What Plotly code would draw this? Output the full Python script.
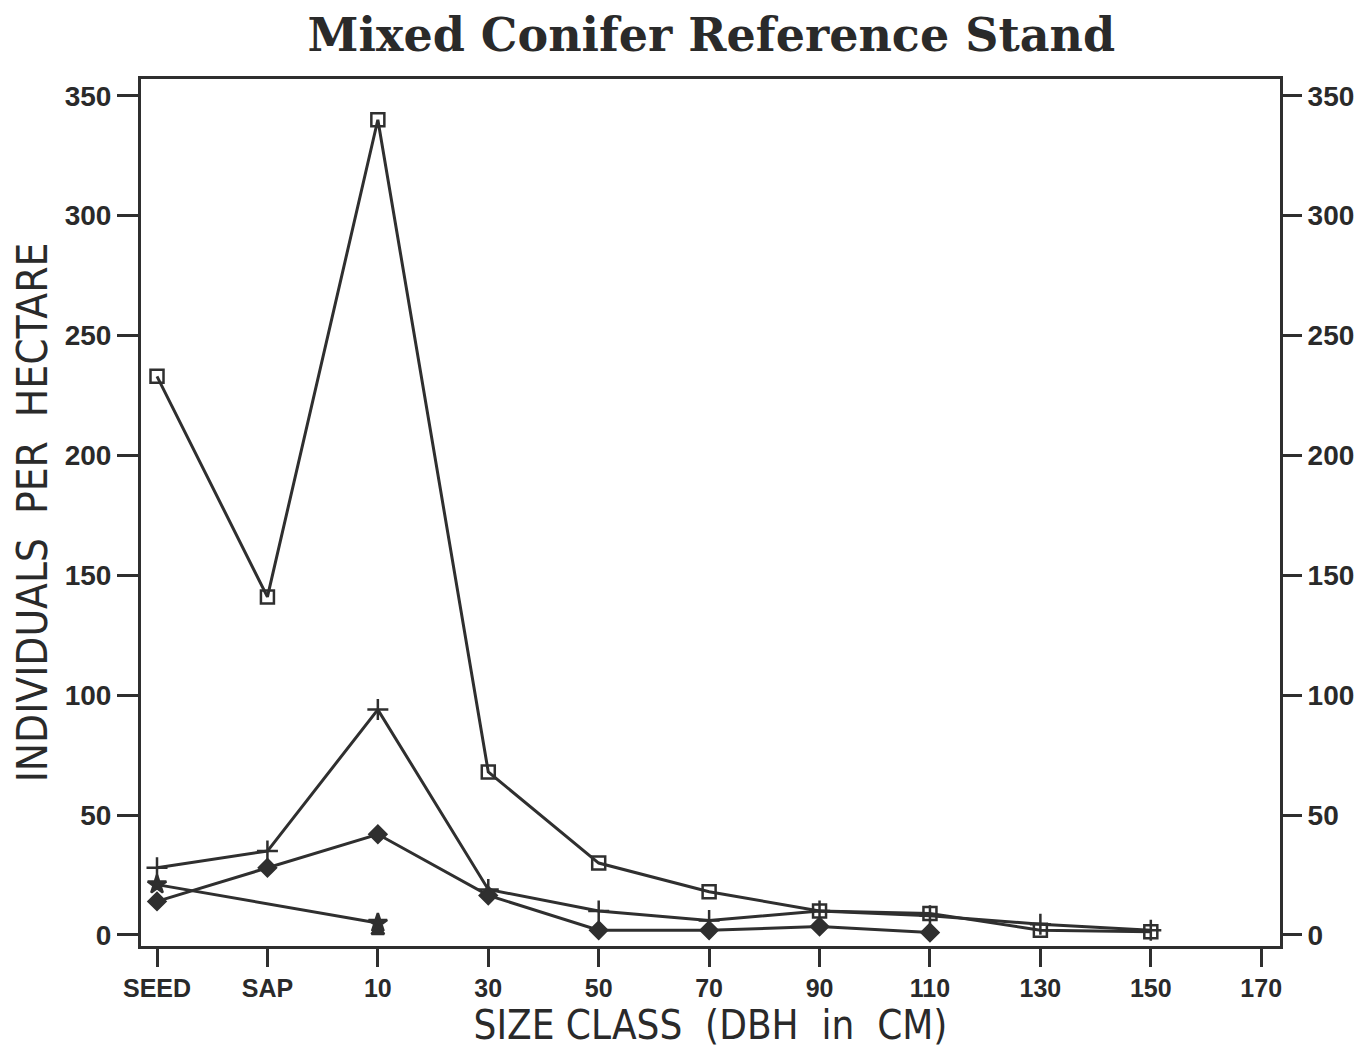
import plotly.graph_objects as go

categories = ["SEED", "SAP", "10", "30", "50", "70", "90", "110", "130", "150", "170"]
x_pos = list(range(len(categories)))

squares = [233, 141, 340, 68, 30, 18, 10, 9, 2, 1.3]
plus = [28, 35, 94, 19, 10, 6, 10, 8, 4.5, 2]
diamonds = [14, 28, 42, 16.5, 2, 2, 3.5, 1]
stars = [21, None, 5]
triangle = [None, None, 1.5]

y_ticks = [0, 50, 100, 150, 200, 250, 300, 350]

LINE = "#2f2f2f"
fig = go.Figure()

def add(vals, symbol, size):
    xs = [x_pos[i] for i, v in enumerate(vals) if v is not None]
    ys = [v for v in vals if v is not None]
    fig.add_trace(go.Scatter(
        x=xs, y=ys, mode="lines+markers",
        line=dict(color=LINE, width=3),
        marker=dict(symbol=symbol, size=size, color=LINE,
                    line=dict(color=LINE, width=2.5)),
        showlegend=False, cliponaxis=False))

add(squares, "square-open", 13)
add(plus, "cross-thin", 15)
add(diamonds, "diamond", 13)
add(stars, "star", 14)
add(triangle, "triangle-up", 11)

fig.add_trace(go.Scatter(x=[0], y=[0], yaxis="y2", mode="markers",
                         marker=dict(opacity=0), showlegend=False, hoverinfo="skip"))

ytickfont = dict(family="Liberation Sans", size=28, color="#2a2a2a", weight="bold")
xtickfont = dict(family="Liberation Sans", size=25, color="#2a2a2a", weight="bold")
yr = [-4.6, 357]

fig.update_layout(
    width=1371, height=1049,
    paper_bgcolor="white", plot_bgcolor="white",
    margin=dict(l=133, r=99, t=71, b=111),
    title=dict(text="Mixed Conifer Reference Stand", x=0.513, xanchor="center",
               y=0.974, yanchor="middle",
               font=dict(family="DejaVu Serif", size=46, color="#2a2a2a", weight="bold")),
    xaxis=dict(range=[-0.145, 10.17], tickmode="array", tickvals=x_pos, ticktext=categories,
               showgrid=False, zeroline=False, showline=True, linecolor=LINE, linewidth=3,
               mirror=True, ticks="outside", ticklen=18, tickwidth=2.5, tickcolor=LINE,
               tickfont=xtickfont,
               title=dict(text="SIZE CLASS  (DBH  in  CM)", standoff=2,
                          font=dict(family="DejaVu Sans Condensed", size=40, color="#2a2a2a"))),
    yaxis=dict(range=yr, tickmode="array", tickvals=y_ticks,
               showgrid=False, zeroline=False, showline=True, linecolor=LINE, linewidth=3,
               mirror=True, ticks="outside", ticklen=21, tickwidth=2.5, tickcolor=LINE,
               tickfont=ytickfont,
               title=dict(text="INDIVIDUALS  PER  HECTARE", standoff=12,
                          font=dict(family="DejaVu Sans Condensed", size=42, color="#2a2a2a"))),
    yaxis2=dict(range=yr, overlaying="y", side="right", tickmode="array", tickvals=y_ticks,
                showgrid=False, zeroline=False, showline=False,
                ticks="outside", ticklen=21, tickwidth=2.5, tickcolor=LINE,
                tickfont=ytickfont),
)

fig.write_html("out.html")
